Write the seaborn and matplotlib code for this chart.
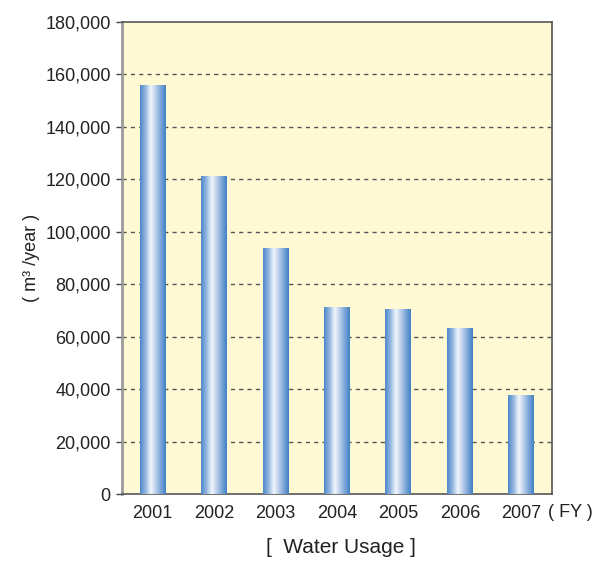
import matplotlib
matplotlib.use("Agg")
import matplotlib.pyplot as plt
from matplotlib.colors import LinearSegmentedColormap
import seaborn as sns
import numpy as np
import pandas as pd

years = ["2001", "2002", "2003", "2004", "2005", "2006", "2007"]
usage = [155800, 121000, 93800, 71300, 70300, 63000, 37400]
yticks = [0, 20000, 40000, 60000, 80000, 100000, 120000, 140000, 160000, 180000]

df = pd.DataFrame({"year": years, "usage": usage})

sns.set_style("white")
plt.rcParams["font.family"] = ["Liberation Sans", "DejaVu Sans"]

fig = plt.figure(figsize=(5.93, 5.61), dpi=100)
ax = fig.add_axes([0.2057, 0.1194, 0.7251, 0.8414])
ax.set_facecolor("#fffad4")

sns.barplot(data=df, x="year", y="usage", color="#4a87c9", width=0.42, ax=ax, zorder=3)

# gradient fill for each bar (blue edges, white middle)
bar_cmap = LinearSegmentedColormap.from_list(
    "bar", [(0.0, "#4a86c8"), (0.2, "#8fb4e0"), (0.42, "#f4f7fd"), (0.7, "#9dbbe2"), (1.0, "#3f7fc4")])
grad = np.linspace(0, 1, 256).reshape(1, -1)
for p in ax.patches:
    x0, y0 = p.get_x(), p.get_y()
    w, h = p.get_width(), p.get_height()
    p.set_facecolor("none")
    p.set_edgecolor("none")
    ax.imshow(grad, cmap=bar_cmap, aspect="auto", extent=(x0, x0 + w, y0, y0 + h),
              zorder=3, interpolation="bicubic")

ax.set_xlim(-0.5, len(years) - 0.5)
ax.set_ylim(0, 180000)
ax.set_yticks(yticks)
ax.set_yticklabels([f"{v:,}" for v in yticks], fontsize=13, color="#222222")
ax.tick_params(axis="x", labelsize=13, labelcolor="#222222", length=0, pad=8)
ax.tick_params(axis="y", length=4, width=1, color="#444444", direction="out", pad=4, left=True)

for v in yticks[1:-1]:
    ax.axhline(v, color="#555555", linestyle=(0, (3, 3)), linewidth=1, zorder=1)

for side in ["top", "right", "bottom"]:
    ax.spines[side].set_color("#555555")
    ax.spines[side].set_linewidth(1.2)
    ax.spines[side].set_visible(True)
ax.spines["left"].set_color("#999999")
ax.spines["left"].set_linewidth(2)

ax.set_xlabel("")
ax.set_ylabel("( m³ /year )", fontsize=13, color="#222222", labelpad=4)

fig.text(0.924, 0.087, "( FY )", fontsize=13, color="#222222", va="center", ha="left")
fig.text(0.575, 0.024, "[  Water Usage ]", fontsize=15, color="#222222", va="center", ha="center")

fig.savefig("out.png", dpi=100)
